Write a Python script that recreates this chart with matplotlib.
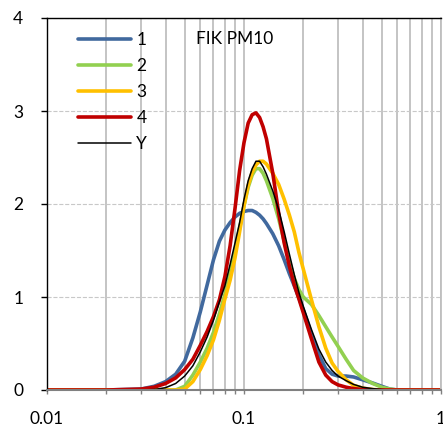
import numpy as np
import matplotlib
matplotlib.use("Agg")
import matplotlib.pyplot as plt
from matplotlib.ticker import FixedLocator, NullFormatter

plt.rcParams['font.family'] = ['Lato', 'DejaVu Sans']

# size (x) grid, shared by all series
size = [0.01, 0.02, 0.03, 0.035, 0.04, 0.045, 0.05, 0.055, 0.06, 0.065, 0.07, 0.075,
        0.08, 0.085, 0.09, 0.095, 0.1, 0.105, 0.11, 0.115, 0.12, 0.125, 0.13, 0.14,
        0.15, 0.16, 0.17, 0.18, 0.19, 0.2, 0.22, 0.24, 0.26, 0.28, 0.3, 0.33, 0.36,
        0.4, 0.45, 0.5, 0.55, 0.6, 0.7, 1.0]

s1 = [0, 0, 0.01, 0.04, 0.09, 0.17, 0.31, 0.56, 0.84, 1.13, 1.40, 1.60,
      1.72, 1.80, 1.86, 1.90, 1.92, 1.93, 1.93, 1.91, 1.88, 1.84, 1.79, 1.68,
      1.55, 1.40, 1.25, 1.12, 0.99, 0.86, 0.60, 0.38, 0.23, 0.17, 0.15, 0.15, 0.14,
      0.11, 0.075, 0.04, 0.01, 0, 0, 0]
s2 = [0, 0, 0, 0, 0, 0, 0.04, 0.16, 0.30, 0.45, 0.62, 0.82,
      1.03, 1.26, 1.50, 1.74, 1.98, 2.18, 2.31, 2.38, 2.38, 2.33, 2.25, 2.06,
      1.84, 1.60, 1.38, 1.20, 1.08, 1.00, 0.92, 0.80, 0.68, 0.57, 0.47, 0.33, 0.21,
      0.13, 0.07, 0.03, 0.01, 0, 0, 0]
s3 = [0, 0, 0, 0, 0, 0, 0.01, 0.09, 0.22, 0.37, 0.54, 0.75,
      0.98, 1.18, 1.42, 1.70, 1.98, 2.20, 2.34, 2.42, 2.46, 2.46, 2.43, 2.33,
      2.21, 2.05, 1.88, 1.70, 1.48, 1.30, 0.97, 0.68, 0.45, 0.29, 0.20, 0.11, 0.05,
      0.02, 0.005, 0, 0, 0, 0, 0]
s4 = [0, 0, 0.01, 0.03, 0.07, 0.13, 0.22, 0.33, 0.48, 0.63, 0.79, 0.97,
      1.22, 1.55, 1.95, 2.36, 2.66, 2.87, 2.96, 2.98, 2.93, 2.83, 2.70, 2.33,
      1.90, 1.58, 1.33, 1.13, 0.98, 0.83, 0.55, 0.30, 0.16, 0.09, 0.055, 0.03, 0.015,
      0.005, 0, 0, 0, 0, 0, 0]
y = [0, 0, 0, 0.005, 0.025, 0.07, 0.15, 0.26, 0.41, 0.57, 0.75, 0.95,
     1.12, 1.35, 1.58, 1.80, 2.05, 2.25, 2.38, 2.46, 2.46, 2.40, 2.32, 2.14,
     1.94, 1.70, 1.46, 1.24, 1.05, 0.90, 0.65, 0.44, 0.30, 0.21, 0.15, 0.10, 0.06,
     0.03, 0.015, 0.005, 0, 0, 0, 0]

series = [('1', s1, '#41699E', 2.6),
          ('2', s2, '#92D050', 2.6),
          ('3', s3, '#FFC000', 2.6),
          ('4', s4, '#C00000', 2.6),
          ('Y', y, 'black', 1.1)]

fig = plt.figure(figsize=(4.43, 4.26), dpi=100)
ax = fig.add_axes([47/443, 36/426, 394/443, 372/426])

for name, vals, col, lw in series:
    ax.plot(size, vals, color=col, lw=lw, label=name, solid_capstyle='round')

ax.set_xscale('log')
ax.set_xlim(0.01, 1)
ax.set_ylim(0, 4)
ax.set_yticks([0, 1, 2, 3, 4])
ax.xaxis.set_major_locator(FixedLocator([0.01, 0.1, 1]))
ax.set_xticklabels(['0.01', '0.1', '1'])
minors = [m * d for d in (0.01, 0.1) for m in range(2, 10)]
ax.xaxis.set_minor_locator(FixedLocator(minors))
ax.xaxis.set_minor_formatter(NullFormatter())

# grid: solid gray verticals, dashed horizontals
ax.grid(True, which='both', axis='x', color='#BFBFBF', lw=1.3, ls='-')
ax.grid(True, which='major', axis='y', color='#C8C8C8', lw=0.8, ls='--')
ax.set_axisbelow(True)

ax.spines['left'].set_color('black')
ax.spines['left'].set_linewidth(1.0)
ax.spines['top'].set_color('black')
ax.spines['top'].set_linewidth(1.0)
ax.spines['bottom'].set_color('#808080')
ax.spines['bottom'].set_linewidth(1.5)
ax.spines['right'].set_color('#BFBFBF')
ax.spines['right'].set_linewidth(1.3)

ax.tick_params(axis='y', length=4, width=1, color='black', pad=13, labelsize=12.5)
ax.tick_params(axis='x', which='both', length=3, width=1, color='#808080',
               pad=12, labelsize=12.5)

leg = ax.legend(loc='upper left', bbox_to_anchor=(0.079, 0.962), frameon=False,
                fontsize=12.5, handlelength=3.05, handletextpad=0.3,
                labelspacing=0.58, borderaxespad=0, borderpad=0)

ax.text(0.378, 0.944, 'FIK PM10', transform=ax.transAxes, fontsize=12.5,
        va='center', ha='left')

plt.savefig('out.png', dpi=100)
